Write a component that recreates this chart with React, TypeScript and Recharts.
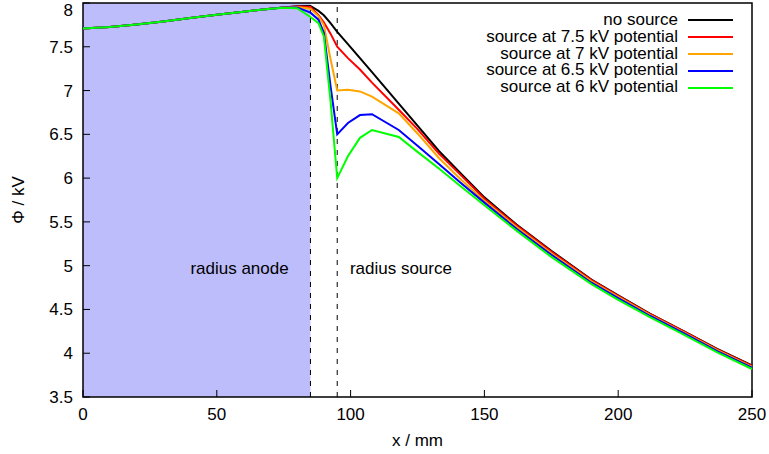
import {
  Legend,
  Line,
  LineChart,
  ReferenceArea,
  ReferenceDot,
  ReferenceLine,
  XAxis,
  YAxis,
} from 'recharts';

const FONT = '"Liberation Sans", Arial, Helvetica, sans-serif';

// x positions (mm)
const xs = [
  0, 10, 20, 30, 40, 50, 60, 70, 75, 80, 85, 88, 90, 92.5, 95, 99, 103.5, 108,
  118, 125, 133, 141, 150, 162, 175, 190, 200, 212, 225, 237, 250,
];

// potential in kV
const noSource = [
  7.71, 7.725, 7.755, 7.79, 7.83, 7.865, 7.9, 7.935, 7.95, 7.963, 7.965, 7.91,
  7.86, 7.77, 7.67, 7.53, 7.37, 7.21, 6.85, 6.6, 6.31, 6.06, 5.78, 5.47, 5.17,
  4.84, 4.66, 4.45, 4.245, 4.05, 3.86,
];
const source75 = [
  7.71, 7.725, 7.755, 7.79, 7.83, 7.865, 7.9, 7.935, 7.95, 7.96, 7.955, 7.86,
  7.78, 7.65, 7.5, 7.37, 7.24, 7.09, 6.78, 6.56, 6.28, 6.04, 5.765, 5.46, 5.16,
  4.835, 4.655, 4.445, 4.24, 4.045, 3.855,
];
const source7 = [
  7.71, 7.725, 7.755, 7.79, 7.83, 7.865, 7.9, 7.935, 7.95, 7.955, 7.935, 7.85,
  7.75, 7.36, 7.0, 7.01, 6.99, 6.93, 6.74, 6.51, 6.23, 5.99, 5.74, 5.44, 5.14,
  4.82, 4.645, 4.435, 4.23, 4.035, 3.845,
];
const source65 = [
  7.71, 7.725, 7.755, 7.79, 7.83, 7.865, 7.9, 7.935, 7.948, 7.95, 7.89, 7.81,
  7.66, 7.05, 6.5, 6.63, 6.72, 6.73, 6.55, 6.37, 6.16, 5.95, 5.72, 5.42, 5.125,
  4.805, 4.63, 4.425, 4.22, 4.025, 3.835,
];
const source6 = [
  7.71, 7.725, 7.755, 7.79, 7.83, 7.865, 7.9, 7.935, 7.945, 7.94, 7.84, 7.77,
  7.62, 6.88, 6.0, 6.25, 6.46, 6.55, 6.47, 6.3, 6.11, 5.91, 5.69, 5.4, 5.1,
  4.79, 4.61, 4.41, 4.205, 4.01, 3.82,
];

const seriesNames = [
  'no source',
  'source at 7.5 kV potential',
  'source at 7 kV potential',
  'source at 6.5 kV potential',
  'source at 6 kV potential',
];
const seriesColors = ['#000000', '#ff0000', '#ffa500', '#0000ff', '#00ff00'];
const seriesValues = [noSource, source75, source7, source65, source6];

const xTicks = [0, 50, 100, 150, 200, 250];
const yTicks = [3.5, 4, 4.5, 5, 5.5, 6, 6.5, 7, 7.5, 8];

const chartData = xs.map((x, i) => {
  const row: Record<string, number> = { x };
  seriesValues.forEach((vals, s) => {
    row[`s${s}`] = vals[i];
  });
  return row;
});

const LegendBox = () => (
  <div style={{ fontFamily: FONT, fontSize: 17, color: '#000', lineHeight: '16.8px' }}>
    {seriesNames.map((name, i) => (
      <div
        key={name}
        style={{
          display: 'flex',
          justifyContent: 'flex-end',
          alignItems: 'center',
          height: 16.8,
          whiteSpace: 'nowrap',
        }}
      >
        <span style={{ lineHeight: '16.8px' }}>{name}</span>
        <svg width={45} height={4} style={{ marginLeft: 10 }}>
          <line x1={0} x2={45} y1={2} y2={2} stroke={seriesColors[i]} strokeWidth={2} />
        </svg>
      </div>
    ))}
  </div>
);

const tickStyle = { fontSize: 17, fill: '#000', fontFamily: FONT };

export default function App() {
  return (
    <div style={{ position: 'absolute', left: 0, top: 0, fontFamily: FONT }}>
      <LineChart
        width={769}
        height={454}
        data={chartData}
        margin={{ top: 3, right: 17, left: 0, bottom: 0 }}
      >
        <ReferenceArea x1={0} x2={85} y1={3.5} y2={8} fill="#bdbdfb" fillOpacity={1} stroke="none" />
        <XAxis
          dataKey="x"
          type="number"
          domain={[0, 250]}
          ticks={xTicks}
          height={57}
          axisLine={false}
          tickSize={-7}
          tickMargin={18}
          tickLine={{ stroke: '#000' }}
          tick={tickStyle}
          label={{
            value: 'x / mm',
            position: 'insideBottom',
            offset: 8,
            fontSize: 17,
            fill: '#000',
            fontFamily: FONT,
          }}
        />
        <XAxis
          xAxisId="top"
          orientation="top"
          dataKey="x"
          type="number"
          domain={[0, 250]}
          ticks={xTicks}
          height={0}
          axisLine={false}
          tickSize={-7}
          tickLine={{ stroke: '#000' }}
          tick={false}
        />
        <YAxis
          type="number"
          domain={[3.5, 8]}
          ticks={yTicks}
          width={83}
          axisLine={false}
          tickSize={-7}
          tickMargin={17}
          tickLine={{ stroke: '#000' }}
          tick={tickStyle}
          label={{
            value: 'Φ / kV',
            angle: -90,
            position: 'center',
            dx: -24,
            fontSize: 17,
            fill: '#000',
            fontFamily: FONT,
          }}
        />
        <YAxis
          yAxisId="right"
          orientation="right"
          type="number"
          domain={[3.5, 8]}
          ticks={yTicks}
          width={0}
          axisLine={false}
          tickSize={-7}
          tickLine={{ stroke: '#000' }}
          tick={false}
        />
        <ReferenceLine x={85} stroke="#000" strokeDasharray="5 6" />
        <ReferenceLine x={95} stroke="#000" strokeDasharray="5 6" />
        <ReferenceDot
          x={58.5}
          y={4.97}
          r={0}
          fill="none"
          stroke="none"
          label={{ value: 'radius anode', position: 'center', fontSize: 17, fill: '#000', fontFamily: FONT }}
        />
        <ReferenceDot
          x={118.8}
          y={4.97}
          r={0}
          fill="none"
          stroke="none"
          label={{ value: 'radius source', position: 'center', fontSize: 17, fill: '#000', fontFamily: FONT }}
        />
        {seriesNames.map((name, i) => (
          <Line
            key={name}
            type="linear"
            dataKey={`s${i}`}
            name={name}
            stroke={seriesColors[i]}
            strokeWidth={2}
            dot={false}
            isAnimationActive={false}
          />
        ))}
        <ReferenceArea x1={0} x2={250} y1={3.5} y2={8} fill="none" stroke="#000" strokeWidth={1.5} />
        <Legend
          layout="vertical"
          align="center"
          verticalAlign="middle"
          content={<LegendBox />}
          wrapperStyle={{ top: 12, right: 36, left: 'auto', bottom: 'auto', width: 'auto', height: 'auto' }}
        />
      </LineChart>
    </div>
  );
}
